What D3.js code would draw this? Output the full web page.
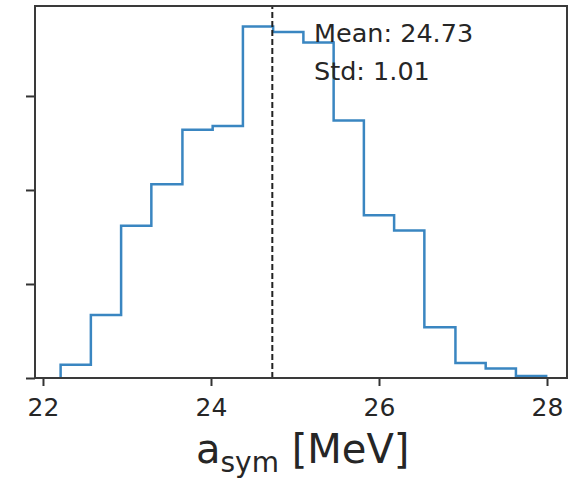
<!DOCTYPE html>
<html lang="en">
  <head>
    <meta charset="utf-8">
    <title>a_sym histogram</title>
    <style>
      body { margin: 0; background: #fff; }
      text { font-family: "DejaVu Sans", sans-serif; fill: #262626; }
    </style>
  </head>
  <body>
    <svg id="chart" width="570" height="479"></svg>
  </body>
  <script src="https://d3js.org/d3.v7.min.js"></script>
  <script>
    // bin edges (MeV) and density per bin
    const binEdges = [22.21, 22.57, 22.93, 23.29, 23.66, 24.02, 24.38, 24.74, 25.10,
                      25.46, 25.82, 26.18, 26.54, 26.91, 27.27, 27.63, 27.99]
    const density = [0.014, 0.067, 0.162, 0.206, 0.264, 0.268, 0.374, 0.368,
                     0.357, 0.274, 0.173, 0.157, 0.054, 0.016, 0.010, 0.002]
    const xTicks = [22, 24, 26, 28]
    const yTicks = [0, 0.1, 0.2, 0.3]
    const meanValue = 24.73
    const stdValue = 1.01

    let svg = d3.select("#chart")
    let plotL = 35, plotR = 567, plotT = 6, plotB = 378

    let x = d3.scaleLinear().domain([21.905, 28.238]).range([plotL, plotR])
    let y = d3.scaleLinear().domain([0, 0.3957]).range([plotB, plotT])

    // histogram outline (step)
    let pts = [[binEdges[0], 0]]
    density.forEach((d, i) => pts.push([binEdges[i], d]))
    pts.push([binEdges[binEdges.length - 1], 0])

    let line = d3.line()
      .x(d => x(d[0]))
      .y(d => y(d[1]))
      .curve(d3.curveStepAfter)

    svg.append("path")
      .datum(pts)
      .attr("d", line)
      .attr("fill", "none")
      .attr("stroke", "#3a86c1")
      .attr("stroke-width", 2.5)

    // mean line
    svg.append("line")
      .attr("x1", x(meanValue)).attr("x2", x(meanValue))
      .attr("y1", y(0)).attr("y2", plotT)
      .attr("stroke", "#222")
      .attr("stroke-width", 2)
      .attr("stroke-dasharray", "6,3")

    svg.append("text")
      .attr("x", 314).attr("y", 42)
      .style("font-size", "25.5px")
      .text("Mean: " + meanValue.toFixed(2))
    svg.append("text")
      .attr("x", 314).attr("y", 80)
      .style("font-size", "25.5px")
      .text("Std: " + stdValue.toFixed(2))

    // axes
    let xAxis = d3.axisBottom(x).tickValues(xTicks).tickFormat(d3.format("d"))
      .tickSize(8).tickPadding(12)
    let gx = svg.append("g").attr("transform", `translate(0,${plotB})`).call(xAxis)
    gx.select(".domain").remove()
    gx.selectAll("line").attr("stroke", "#333").attr("stroke-width", 2)
    gx.selectAll("text").style("font-size", "25px").style("fill", "#262626")

    let yAxis = d3.axisLeft(y).tickValues(yTicks).tickSize(9).tickFormat("")
    let gy = svg.append("g").attr("transform", `translate(${plotL},0)`).call(yAxis)
    gy.select(".domain").remove()
    gy.selectAll("line").attr("stroke", "#333").attr("stroke-width", 2)

    // frame
    svg.append("rect")
      .attr("x", plotL).attr("y", plotT)
      .attr("width", plotR - plotL).attr("height", plotB - plotT)
      .attr("fill", "none")
      .attr("stroke", "#3a3a3a")
      .attr("stroke-width", 2)

    // x label
    let xl = svg.append("text")
      .attr("x", 196).attr("y", 463)
      .style("font-size", "40px")
    xl.append("tspan").text("a")
    xl.append("tspan").attr("dy", 9).style("font-size", "28px").text("sym")
    xl.append("tspan").attr("dy", -9).text(" [MeV]")
  </script>
</html>
